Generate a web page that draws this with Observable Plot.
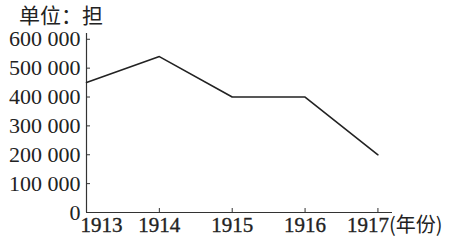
<!DOCTYPE html>
<html><head><meta charset="utf-8">
<script src="https://cdn.jsdelivr.net/npm/d3@7"></script>
<script src="https://cdn.jsdelivr.net/npm/@observablehq/plot@0.6"></script>
<style>
body{margin:0;background:#fff;}
#wrap{position:relative;width:449px;height:246px;}
#title{position:absolute;left:19px;top:3px;font-family:"Noto Sans CJK SC";font-size:21px;color:#222;line-height:22px;z-index:2;}
</style>
</head><body>
<div id="wrap"><div id="title">单位：担</div></div>
<script>
const years = [1913, 1914, 1915, 1916, 1917];
const values = [450000, 540000, 400000, 400000, 200000];
const yTicks = [0, 100000, 200000, 300000, 400000, 500000, 600000];
const xTicks = [1913, 1914, 1915, 1916, 1917];
const unitLabel = "(年份)";

const data = years.map((y, i) => ({year: y, value: values[i]}));
const fmt = d => d3.format(",")(d).replace(/,/g, " ");
const serif = "'Liberation Serif', serif";
const lastX = xTicks[xTicks.length - 1];
const txt = {fill: "#222", stroke: "#222", strokeWidth: 0.35, fontFamily: serif};

const chart = Plot.plot({
  width: 449, height: 246,
  marginLeft: 86, marginRight: 57, marginTop: 33, marginBottom: 34,
  style: {fontFamily: serif, background: "transparent", color: "#222"},
  x: {domain: [1913, 1917.2], label: null},
  y: {domain: [0, 620000], label: null},
  marks: [
    Plot.axisY(yTicks, {tickSize: -4, text: null, stroke: "#333", label: null}),
    Plot.axisY(yTicks, {tickSize: 0, tickPadding: 6, tickFormat: fmt, fontSize: 22, ...txt, label: null}),
    Plot.axisX(xTicks, {tickSize: -4, text: null, stroke: "#333", label: null}),
    Plot.text(xTicks.filter(d => d !== 1913 && d !== lastX), {x: d => d, frameAnchor: "bottom", text: d => String(d), dy: 19, fontSize: 21, ...txt}),
    Plot.text(xTicks.filter(d => d === 1913), {x: d => d, frameAnchor: "bottom", text: d => String(d), textAnchor: "start", dx: -6, dy: 19, fontSize: 21, ...txt}),
    Plot.text([lastX], {x: d => d, frameAnchor: "bottom", text: d => String(d), textAnchor: "end", dx: 11, dy: 19, fontSize: 21, ...txt}),
    Plot.text([unitLabel], {x: lastX, frameAnchor: "bottom", text: d => d, textAnchor: "start", dx: 11, dy: 19, fontSize: 20, fill: "#222", fontFamily: "Noto Sans CJK SC"}),
    Plot.ruleY([0], {stroke: "#333", strokeWidth: 1.2}),
    Plot.ruleX([1913], {stroke: "#333", strokeWidth: 1.2}),
    Plot.line(data, {x: "year", y: "value", stroke: "#222", strokeWidth: 1.6})
  ]
});
document.getElementById("wrap").prepend(chart);
chart.style.position = "absolute";
chart.style.left = "0";
chart.style.top = "0";
</script>
</body></html>
